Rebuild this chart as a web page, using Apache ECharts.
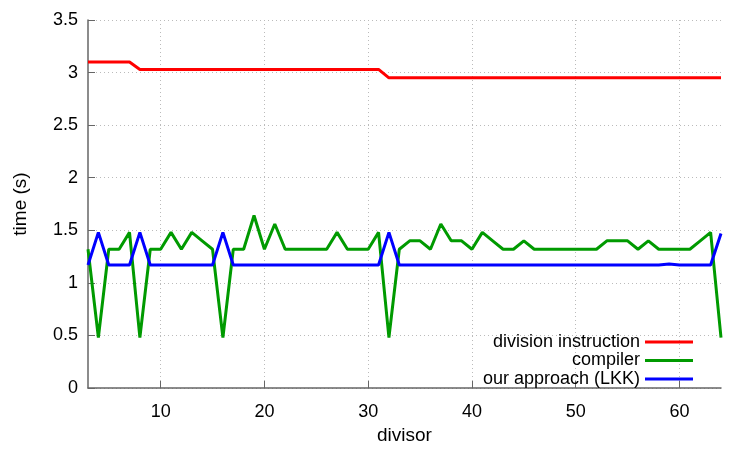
<!DOCTYPE html>
<html>
<head>
<meta charset="utf-8">
<script src="https://cdn.jsdelivr.net/npm/echarts@6/dist/echarts.min.js"></script>
<style>html,body{margin:0;padding:0;background:#fff}#c{width:750px;height:450px}</style>
</head>
<body>
<div id="c"></div>
<script>
var divisors = [];
for (var d = 3; d <= 64; d++) divisors.push(d);

var divisionInstruction = [
  3.10, 3.10, 3.10, 3.10, 3.10, 3.03, 3.03, 3.03, 3.03, 3.03,
  3.03, 3.03, 3.03, 3.03, 3.03, 3.03, 3.03, 3.03, 3.03, 3.03,
  3.03, 3.03, 3.03, 3.03, 3.03, 3.03, 3.03, 3.03, 3.03, 2.95,
  2.95, 2.95, 2.95, 2.95, 2.95, 2.95, 2.95, 2.95, 2.95, 2.95,
  2.95, 2.95, 2.95, 2.95, 2.95, 2.95, 2.95, 2.95, 2.95, 2.95,
  2.95, 2.95, 2.95, 2.95, 2.95, 2.95, 2.95, 2.95, 2.95, 2.95,
  2.95, 2.95
];
var compiler = [
  1.32, 0.48, 1.32, 1.32, 1.48, 0.48, 1.32, 1.32, 1.48, 1.32,
  1.48, 1.40, 1.32, 0.48, 1.32, 1.32, 1.64, 1.32, 1.56, 1.32,
  1.32, 1.32, 1.32, 1.32, 1.48, 1.32, 1.32, 1.32, 1.48, 0.48,
  1.32, 1.40, 1.40, 1.32, 1.56, 1.40, 1.40, 1.32, 1.48, 1.40,
  1.32, 1.32, 1.40, 1.32, 1.32, 1.32, 1.32, 1.32, 1.32, 1.32,
  1.40, 1.40, 1.40, 1.32, 1.40, 1.32, 1.32, 1.32, 1.32, 1.40,
  1.48, 0.48
];
var ourApproach = [
  1.17, 1.48, 1.17, 1.17, 1.17, 1.48, 1.17, 1.17, 1.17, 1.17,
  1.17, 1.17, 1.17, 1.48, 1.17, 1.17, 1.17, 1.17, 1.17, 1.17,
  1.17, 1.17, 1.17, 1.17, 1.17, 1.17, 1.17, 1.17, 1.17, 1.48,
  1.17, 1.17, 1.17, 1.17, 1.17, 1.17, 1.17, 1.17, 1.17, 1.17,
  1.17, 1.17, 1.17, 1.17, 1.17, 1.17, 1.17, 1.17, 1.17, 1.17,
  1.17, 1.17, 1.17, 1.17, 1.17, 1.17, 1.18, 1.17, 1.17, 1.17,
  1.17, 1.47
];
var xTicks = [10, 20, 30, 40, 50, 60];
var seriesNames = ['division instruction', 'compiler', 'our approach (LKK)'];
var colors = ['#ff0000', '#009a00', '#0000ff'];

function pairs(vals) { return divisors.map(function (x, i) { return [x, vals[i]]; }); }

var font = 'Liberation Sans, Arial, Helvetica, sans-serif';
var chart = echarts.init(document.getElementById('c'), null, { renderer: 'canvas' });
var gridLine = { show: true, lineStyle: { color: '#bbbbbb', width: 1, type: [1, 3] } };
chart.setOption({
  animation: false,
  color: colors,
  grid: { left: 88, right: 29, top: 20, bottom: 59, containLabel: false },
  legend: {
    orient: 'vertical',
    align: 'right',
    right: 52,
    top: 328,
    itemWidth: 48,
    itemHeight: 3,
    itemGap: 0.5,
    icon: 'rect',
    data: seriesNames,
    textStyle: { fontFamily: font, fontSize: 18, color: '#000' }
  },
  xAxis: {
    type: 'value', min: 3, max: 64,
    name: 'divisor', nameLocation: 'middle', nameGap: 38,
    nameTextStyle: { fontFamily: font, fontSize: 19, color: '#000' },
    axisLine: { show: true, lineStyle: { color: '#666', width: 1.5 } },
    axisTick: { show: true, inside: true, length: 7, customValues: xTicks, lineStyle: { color: '#666' } },
    axisLabel: { customValues: xTicks, fontFamily: font, fontSize: 18, color: '#000', margin: 15 },
    splitLine: gridLine
  },
  yAxis: {
    type: 'value', min: 0, max: 3.5, interval: 0.5,
    name: 'time (s)', nameLocation: 'middle', nameGap: 58, nameRotate: 90,
    nameTextStyle: { fontFamily: font, fontSize: 19, color: '#000' },
    axisLine: { show: true, lineStyle: { color: '#666', width: 1.5 } },
    axisTick: { show: true, inside: true, length: 7, lineStyle: { color: '#666' } },
    axisLabel: { fontFamily: font, fontSize: 18, color: '#000', margin: 10 },
    splitLine: gridLine
  },
  series: [
    { name: seriesNames[0], type: 'line', data: pairs(divisionInstruction), symbol: 'none', lineStyle: { width: 3, color: colors[0] }, itemStyle: { color: colors[0] } },
    { name: seriesNames[1], type: 'line', data: pairs(compiler), symbol: 'none', lineStyle: { width: 3, color: colors[1] }, itemStyle: { color: colors[1] } },
    { name: seriesNames[2], type: 'line', data: pairs(ourApproach), symbol: 'none', lineStyle: { width: 3, color: colors[2] }, itemStyle: { color: colors[2] } }
  ]
});
</script>
</body>
</html>
